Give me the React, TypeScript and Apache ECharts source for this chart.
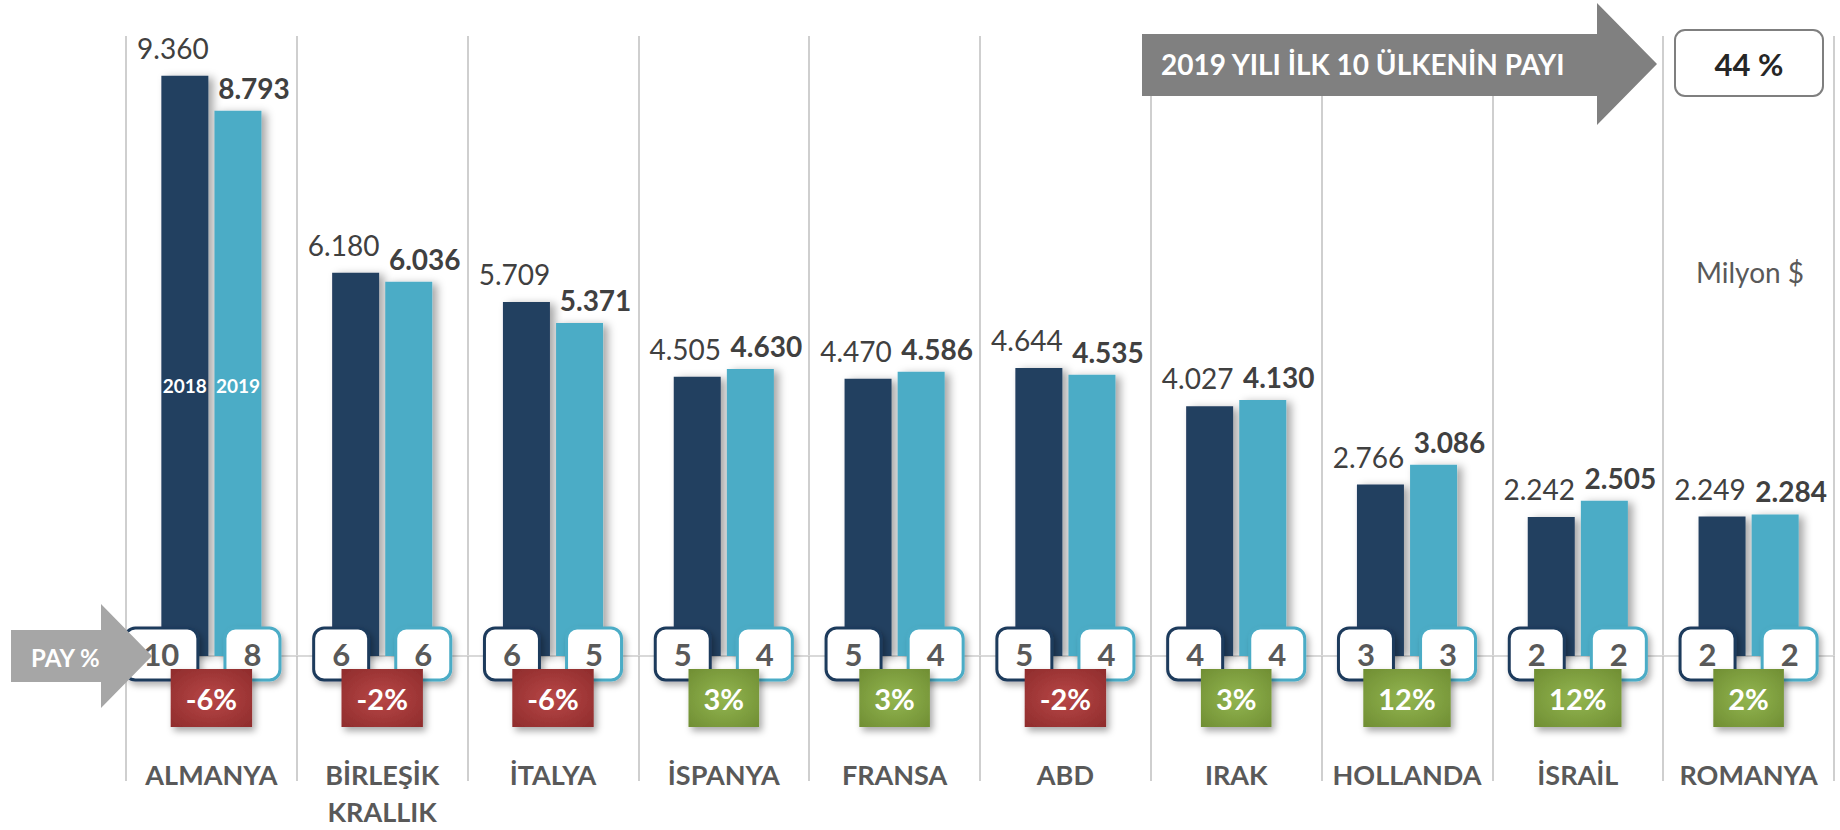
import React, { useEffect, useRef } from 'react';
import * as echarts from 'echarts';

// Export values (million $) of the top ten partner countries
const countries = ['ALMANYA', 'BİRLEŞİK\nKRALLIK', 'İTALYA', 'İSPANYA', 'FRANSA', 'ABD', 'IRAK', 'HOLLANDA', 'İSRAİL', 'ROMANYA'];
const exports2018 = [9360, 6180, 5709, 4505, 4470, 4644, 4027, 2766, 2242, 2249];
const exports2019 = [8793, 6036, 5371, 4630, 4586, 4535, 4130, 3086, 2505, 2284];
// Share in total exports (%)
const share2018 = [10, 6, 6, 5, 5, 5, 4, 3, 2, 2];
const share2019 = [8, 6, 5, 4, 4, 4, 4, 3, 2, 2];
// Change 2019 vs 2018 (%)
const changePct = [-6, -2, -6, 3, 3, -2, 3, 12, 12, 2];
const years = ['2018', '2019'];
const top10Share = 44;

const FONT = 'Lato, "Noto Sans", sans-serif';
const DARK = '#243F60';
const LIGHT = '#4BACC6';

const thousands = (v: number) => String(v).replace(/\B(?=(\d{3})+(?!\d))/g, '.');

const redFill = new echarts.graphic.RadialGradient(0.5, 0.5, 0.75, [
  { offset: 0, color: '#B84747' },
  { offset: 1, color: '#8C2A2A' },
]);
const greenFill = new echarts.graphic.RadialGradient(0.5, 0.5, 0.75, [
  { offset: 0, color: '#93B650' },
  { offset: 1, color: '#6D8B31' },
]);

const BAR_W = 47;
const BAR_GAP = '13%';

function buildOption(): any {
  const hiddenAxis = (i: number) => ({
    type: 'category',
    data: countries,
    gridIndex: 0,
    show: false,
    boundaryGap: true,
    id: 'hx' + i,
  });

  const shareBox = (border: string) => ({
    backgroundColor: '#FFFFFF',
    borderColor: border,
    borderWidth: 3,
    borderRadius: 9,
    padding: [9, 17],
    fontSize: 31,
    lineHeight: 31,
    fontWeight: 'bold',
    color: '#595959',
    fontFamily: FONT,
    shadowBlur: 6,
    shadowOffsetX: 3,
    shadowOffsetY: 4,
    shadowColor: 'rgba(0,0,0,0.3)',
  });

  const barShadow = {
    shadowBlur: 8,
    shadowColor: 'rgba(0,0,0,0.35)',
    shadowOffsetX: 5,
    shadowOffsetY: 2,
  };

  return {
    animation: false,
    textStyle: { fontFamily: FONT },
    grid: { left: 126, right: 6, top: 36, bottom: 170, containLabel: false },
    xAxis: [
      {
        type: 'category',
        data: countries,
        boundaryGap: true,
        axisLine: { show: true, lineStyle: { color: '#D9D9D9', width: 2 } },
        axisTick: { show: true, length: 125, lineStyle: { color: '#BFBFBF', width: 1.5 } },
        splitLine: { show: true, lineStyle: { color: '#BFBFBF', width: 1.5 } },
        axisLabel: {
          interval: 0,
          margin: 100,
          fontSize: 27,
          lineHeight: 37,
          fontWeight: 'bold',
          color: '#595959',
          fontFamily: FONT,
          verticalAlign: 'top',
        },
      },
      hiddenAxis(1),
      hiddenAxis(2),
    ],
    yAxis: { type: 'value', min: 0, max: 10000, show: false },
    series: [
      {
        name: years[0],
        type: 'bar',
        xAxisIndex: 0,
        data: exports2018,
        barWidth: BAR_W,
        barGap: BAR_GAP,
        itemStyle: { color: DARK, ...barShadow },
        label: {
          show: true,
          position: 'top',
          distance: 14,
          offset: [-12, 0],
          formatter: (p: any) => thousands(p.value),
          fontSize: 28,
          lineHeight: 28,
          color: '#404040',
          fontFamily: FONT,
        },
        silent: true,
      },
      {
        name: years[1],
        type: 'bar',
        xAxisIndex: 0,
        data: exports2019,
        barWidth: BAR_W,
        barGap: BAR_GAP,
        itemStyle: { color: LIGHT, ...barShadow },
        label: {
          show: true,
          position: 'top',
          distance: 9,
          offset: [16, 0],
          formatter: (p: any) => thousands(p.value),
          fontSize: 28,
          lineHeight: 28,
          fontWeight: 'bold',
          color: '#404040',
          fontFamily: FONT,
        },
        silent: true,
      },
      // share boxes, laid out on a hidden twin axis so they follow each bar
      {
        type: 'bar',
        xAxisIndex: 1,
        data: exports2018,
        barWidth: BAR_W,
        barGap: BAR_GAP,
        itemStyle: { color: 'rgba(0,0,0,0)' },
        label: {
          show: true,
          position: ['100%', '100%'],
          align: 'right',
          verticalAlign: 'middle',
          offset: [-12, -2],
          formatter: (p: any) => String(share2018[p.dataIndex]),
          ...shareBox('#1F3A5C'),
        },
        silent: true,
        z: 5,
      },
      {
        type: 'bar',
        xAxisIndex: 1,
        data: exports2019,
        barWidth: BAR_W,
        barGap: BAR_GAP,
        itemStyle: { color: 'rgba(0,0,0,0)' },
        label: {
          show: true,
          position: ['0%', '100%'],
          align: 'left',
          verticalAlign: 'middle',
          offset: [12, -2],
          formatter: (p: any) => String(share2019[p.dataIndex]),
          ...shareBox('#4BACC6'),
        },
        silent: true,
        z: 5,
      },
      // year captions inside the first pair of bars
      {
        type: 'bar',
        xAxisIndex: 2,
        data: exports2018.map((v, i) => ({ value: v, label: { show: i === 0 } })),
        barWidth: BAR_W,
        barGap: BAR_GAP,
        itemStyle: { color: 'rgba(0,0,0,0)' },
        label: {
          position: 'insideBottom',
          distance: 261,
          formatter: years[0],
          fontSize: 19,
          lineHeight: 20,
          fontWeight: 'bold',
          color: '#FFFFFF',
          fontFamily: FONT,
        },
        silent: true,
        z: 4,
      },
      {
        type: 'bar',
        xAxisIndex: 2,
        data: exports2019.map((v, i) => ({ value: v, label: { show: i === 0 } })),
        barWidth: BAR_W,
        barGap: BAR_GAP,
        itemStyle: { color: 'rgba(0,0,0,0)' },
        label: {
          position: 'insideBottom',
          distance: 261,
          formatter: years[1],
          fontSize: 19,
          lineHeight: 20,
          fontWeight: 'bold',
          color: '#FFFFFF',
          fontFamily: FONT,
        },
        silent: true,
        z: 4,
      },
      // change badges under each country
      {
        type: 'scatter',
        xAxisIndex: 0,
        symbol: 'circle',
        symbolSize: 1,
        itemStyle: { color: 'rgba(0,0,0,0)' },
        data: changePct.map((c, i) => ({
          value: [i, 0],
          label: { backgroundColor: c < 0 ? redFill : greenFill },
        })),
        label: {
          show: true,
          opacity: 1,
          position: 'inside',
          offset: [0, 42],
          formatter: (p: any) => `${changePct[p.dataIndex]}%`,
          padding: [14, 15],
          fontSize: 29,
          lineHeight: 30,
          fontWeight: 'bold',
          color: '#FFFFFF',
          fontFamily: FONT,
          shadowBlur: 7,
          shadowOffsetX: 3,
          shadowOffsetY: 4,
          shadowColor: 'rgba(0,0,0,0.35)',
        },
        silent: true,
        z: 6,
      },
    ],
    graphic: [
      {
        type: 'polygon',
        z: 100,
        shape: {
          points: [
            [1142, 34], [1597, 34], [1597, 3], [1657, 64], [1597, 125], [1597, 96], [1142, 96],
          ],
        },
        style: { fill: '#808080' },
      },
      {
        type: 'text',
        z: 101,
        x: 1161,
        y: 64,
        style: {
          text: `2019 YILI İLK 10 ÜLKENİN PAYI`,
          fill: '#FFFFFF',
          font: `bold 28px ${FONT}`,
          align: 'left',
          verticalAlign: 'middle',
        },
      },
      {
        type: 'rect',
        z: 100,
        shape: { x: 1675, y: 30, width: 148, height: 66, r: 10 },
        style: { fill: '#FFFFFF', stroke: '#7F7F7F', lineWidth: 2 },
      },
      {
        type: 'text',
        z: 101,
        x: 1749,
        y: 64,
        style: {
          text: `${top10Share} %`,
          fill: '#262626',
          font: `bold 31px ${FONT}`,
          align: 'center',
          verticalAlign: 'middle',
        },
      },
      {
        type: 'text',
        z: 101,
        x: 1750,
        y: 272,
        style: {
          text: 'Milyon $',
          fill: '#595959',
          font: `28px ${FONT}`,
          align: 'center',
          verticalAlign: 'middle',
        },
      },
      {
        type: 'polygon',
        z: 100,
        shape: {
          points: [
            [11, 630], [101, 630], [101, 604], [152, 656], [101, 708], [101, 682], [11, 682],
          ],
        },
        style: { fill: '#A6A6A6' },
      },
      {
        type: 'text',
        z: 101,
        x: 31,
        y: 657,
        style: {
          text: 'PAY %',
          fill: '#FFFFFF',
          font: `bold 24px ${FONT}`,
          align: 'left',
          verticalAlign: 'middle',
        },
      },
    ],
  };
}

export default function App() {
  const ref = useRef<HTMLDivElement>(null);
  useEffect(() => {
    if (!ref.current) return;
    const chart = echarts.init(ref.current, undefined, { renderer: 'svg' });
    chart.setOption(buildOption());
    return () => chart.dispose();
  }, []);
  return (
    <div
      ref={ref}
      style={{ position: 'fixed', left: 0, top: 0, width: 1840, height: 830, background: '#FFFFFF' }}
    />
  );
}
